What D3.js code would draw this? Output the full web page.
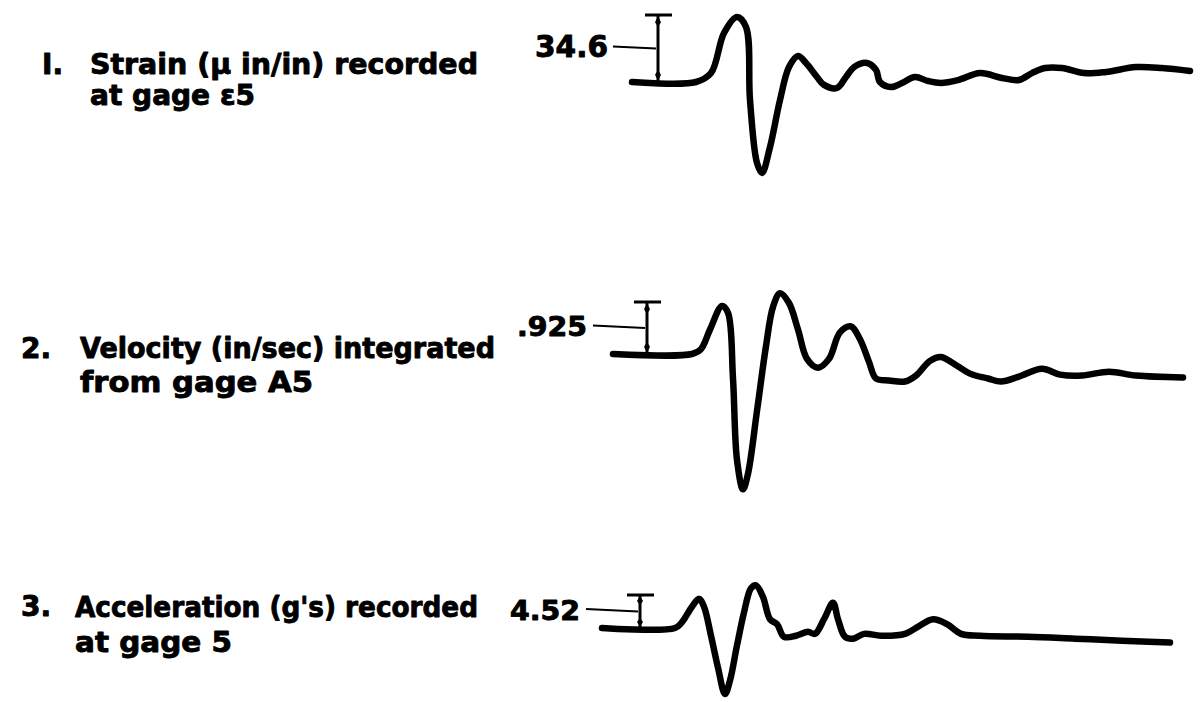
<!DOCTYPE html>
<html>
<head>
<meta charset="utf-8">
<script src="https://cdn.jsdelivr.net/npm/d3@7/dist/d3.min.js"></script>
<style>
  html, body { margin: 0; padding: 0; background: #fff; }
  svg { display: block; }
  text { font-family: "DejaVu Sans", "Liberation Sans", sans-serif; font-weight: bold; fill: #000; stroke: #000; stroke-width: 0.9; stroke-linejoin: round; }
</style>
</head>
<body>
<svg id="chart" width="1200" height="702"></svg>
<script>
// ---------------- DATA ----------------
const panelNumbers = ["I.", "2.", "3."];
const labelLine1 = ["Strain (\u03bc in/in) recorded", "Velocity (in/sec) integrated", "Acceleration (g's) recorded"];
const labelLine2 = ["at gage \u03b55", "from gage A5", "at gage 5"];
const calValues = [34.6, 0.925, 4.52];
const calLabels = ["34.6", ".925", "4.52"];
const calTime = [5.8, 4.7, 4.0];   // time where calibration bar sits

// time (ms, relative) and strain (μ in/in)
const strainT = [3.2, 9.6, 11.1, 12.4, 13.7, 14.6, 15.0, 15.7, 16.2, 17.0, 18.0, 18.9, 19.8, 20.6, 21.7, 22.4, 23.7, 24.6, 25.4, 26.7, 27.6, 28.0, 29.1, 30.2, 31.5, 32.8, 34.1, 35.8, 38.0, 40.2, 41.9, 43.2, 44.5, 46.2, 48.4, 50.6, 53.6, 56.2, 59.0];
const strainV = [0, 0, 4.6, 25.3, 33.6, 28.4, -9.3, -41.8, -47.0, -33.6, -9.3, 7.7, 13.4, 9.8, 2.6, -1.5, -3.1, 2.6, 7.7, 9.8, 6.2, 0, -2.6, -0.5, 2.6, 0.5, -0.5, 1.0, 4.6, 2.1, 1.0, 4.6, 7.2, 7.2, 4.6, 5.2, 7.7, 7.2, 5.7];

// time and velocity (in/sec)
const velT = [1.3, 9.2, 10.1, 11.0, 12.2, 12.8, 13.3, 13.7, 14.3, 14.8, 15.7, 16.6, 17.3, 18.0, 18.9, 19.8, 20.7, 21.8, 22.9, 24.0, 25.1, 26.0, 26.9, 27.6, 28.9, 30.5, 31.6, 33.0, 34.1, 35.7, 37.0, 38.8, 40.1, 41.9, 44.2, 46.0, 48.2, 50.9, 53.6, 58.3];
const velV = [0, 0, 0.087, 0.436, 0.855, 0.733, -0.436, -1.885, -2.408, -2.129, -1.012, 0.140, 0.838, 1.082, 0.907, 0.436, -0.087, -0.244, -0.087, 0.384, 0.489, 0.262, -0.140, -0.436, -0.471, -0.489, -0.384, -0.122, -0.052, -0.209, -0.349, -0.436, -0.489, -0.401, -0.262, -0.366, -0.384, -0.314, -0.384, -0.419];

// time and acceleration (g's)
const accT = [0.2, 7.5, 8.2, 9.2, 9.9, 10.4, 11.1, 11.8, 12.5, 13.0, 13.7, 14.4, 15.1, 15.6, 16.3, 17.0, 17.7, 18.4, 19.6, 20.8, 21.5, 22.4, 23.3, 23.8, 24.5, 25.3, 26.4, 28.1, 30.5, 31.9, 33.3, 34.7, 36.1, 38.0, 42.8, 47.5, 52.2, 57.0];
const accV = [0, 0, 0.80, 2.92, 3.99, 2.92, -1.06, -5.45, -9.04, -7.18, -2.39, 2.13, 5.45, 5.85, 4.25, 1.20, 0.53, -1.20, -1.06, -0.53, -0.80, 1.20, 3.46, 1.20, -1.20, -1.46, -0.80, -1.06, -0.80, 0.27, 1.20, 0.53, -0.80, -1.06, -1.20, -1.46, -1.73, -1.99];

// ---------------- LAYOUT ----------------
const svg = d3.select("#chart");
const x = d3.scaleLinear().domain([0, 60]).range([600, 1200]);

const panels = [
  { t: strainT, v: strainV, base: 82,  bar: 67, numX: 42, numY: 74,  labX: 90, l1w: 388, l2w: 165, labY: 74,  gap: 31, lead: 2.0, leadLen: 45, txtOff: 50, txtW: 73, txtFs: 31, txtDy: 8 },
  { t: velT,    v: velV,    base: 354, bar: 52, numX: 21, numY: 358, labX: 80, l1w: 415, l2w: 233, labY: 358, gap: 34, lead: 2.4, leadLen: 54, txtOff: 60, txtW: 70, txtFs: 27, txtDy: 8 },
  { t: accT,    v: accV,    base: 628, bar: 33, numX: 21, numY: 616, labX: 75, l1w: 403, l2w: 157, labY: 617, gap: 35, lead: 2.4, leadLen: 54, txtOff: 60, txtW: 70, txtFs: 27, txtDy: 8 }
];

panels.forEach((p, i) => {
  const y = d3.scaleLinear().domain([0, calValues[i]]).range([p.base, p.base - p.bar]);
  const g = svg.append("g");

  // trace
  const pts = p.t.map((t, k) => [t, p.v[k]]);
  const line = d3.line()
    .x(d => x(d[0]))
    .y(d => y(d[1]))
    .curve(d3.curveCatmullRom.alpha(0.5));
  g.append("path")
    .datum(pts)
    .attr("d", line)
    .attr("fill", "none")
    .attr("stroke", "#000")
    .attr("stroke-width", 6.5)
    .attr("stroke-linecap", "round")
    .attr("stroke-linejoin", "round");

  // calibration bar
  const bx = x(calTime[i]);
  const yTop = y(calValues[i]);
  const yBot = y(0);
  const yMid = (yTop + yBot) / 2;
  g.append("line").attr("x1", bx).attr("x2", bx).attr("y1", yTop).attr("y2", yBot)
    .attr("stroke", "#000").attr("stroke-width", 3);
  g.append("line").attr("x1", bx - 13).attr("x2", bx + 14).attr("y1", yTop).attr("y2", yTop)
    .attr("stroke", "#000").attr("stroke-width", 3);
  // arrowheads (spindle shapes)
  const ah = Math.min(12, (yBot - yTop) * 0.3);
  g.append("path")
    .attr("d", `M${bx},${yTop + 1} L${bx + 3},${yTop + ah * 0.6} L${bx},${yTop + ah} L${bx - 3},${yTop + ah * 0.6} Z`)
    .attr("fill", "#000");
  g.append("path")
    .attr("d", `M${bx},${yBot - 1} L${bx + 3},${yBot - ah * 0.6} L${bx},${yBot - ah} L${bx - 3},${yBot - ah * 0.6} Z`)
    .attr("fill", "#000");
  // leader line
  g.append("line").attr("x1", bx - p.leadLen).attr("x2", bx - 2).attr("y1", yMid - p.lead).attr("y2", yMid)
    .attr("stroke", "#000").attr("stroke-width", 2);
  // value label
  g.append("text")
    .attr("x", bx - p.txtOff - p.txtW).attr("y", yMid + p.txtDy)
    .attr("font-size", p.txtFs)
    .attr("textLength", p.txtW).attr("lengthAdjust", "spacingAndGlyphs")
    .text(calLabels[i]);

  // left labels
  g.append("text").attr("x", p.numX).attr("y", p.numY).attr("font-size", 28).text(panelNumbers[i]);
  g.append("text").attr("x", p.labX).attr("y", p.labY).attr("font-size", 28)
    .attr("textLength", p.l1w).attr("lengthAdjust", "spacingAndGlyphs")
    .text(labelLine1[i]);
  g.append("text").attr("x", p.labX).attr("y", p.labY + p.gap).attr("font-size", 28)
    .attr("textLength", p.l2w).attr("lengthAdjust", "spacingAndGlyphs")
    .text(labelLine2[i]);
});
</script>
</body>
</html>
